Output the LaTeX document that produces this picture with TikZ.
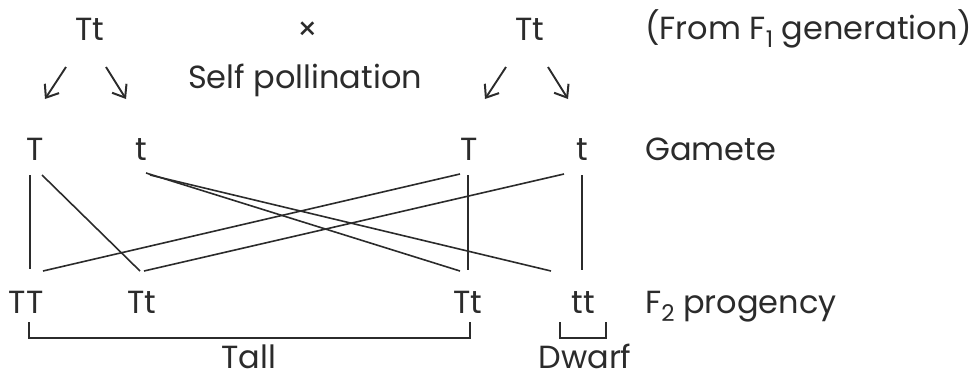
\documentclass[tikz,border=0pt]{standalone}
\usepackage{fontspec}
\setmainfont{Poppins}
\usetikzlibrary{arrows.meta}
\definecolor{ink}{HTML}{2B2B2B}
\newcommand{\lowsub}[1]{\raisebox{-8pt}{\fontsize{23}{26}\selectfont #1}}
\tikzset{
  lbl/.style={anchor=base, inner sep=0pt, text=ink, font=\fontsize{32}{38}\selectfont},
  lbll/.style={lbl, anchor=base west},
  conn/.style={draw=ink, line width=1.6pt},
  arr/.style={draw=ink, line width=1.9pt, -{Straight Barb[length=11pt,width=17pt,line width=2pt]}},
}
\begin{document}
\begin{tikzpicture}[x=1pt,y=-1pt]
\useasboundingbox (0,0) rectangle (975,381);
% parents
\node[lbl] (p1) at (90,40) {Tt};
\node[lbl] (cross) at (308,40) {×};
\node[lbl] (p2) at (530,40) {Tt};
\node[lbll] (f1lab) at (645,39) {(From F\lowsub{1} generation)};
\node[lbll] (self) at (188,88) {Self pollination};
% arrows
\coordinate (a1s) at (66,67); \coordinate (a1e) at (45,99);
\coordinate (a2s) at (106,67); \coordinate (a2e) at (126,99);
\coordinate (a3s) at (506,67); \coordinate (a3e) at (485,99);
\coordinate (a4s) at (548,67); \coordinate (a4e) at (568,99);
\draw[arr] (a1s) -- (a1e);
\draw[arr] (a2s) -- (a2e);
\draw[arr] (a3s) -- (a3e);
\draw[arr] (a4s) -- (a4e);
% gametes
\node[lbl] (g1) at (35,160) {T};
\node[lbl] (g2) at (141,160) {t};
\node[lbl] (g3) at (469,160) {T};
\node[lbl] (g4) at (582,160) {t};
\node[lbll] (glab) at (645,160) {Gamete};
% connector ends
\coordinate (g1a) at (30,175);
\coordinate (g1b) at (42,175);
\coordinate (g2a) at (146,173);
\coordinate (g2b) at (150,175);
\coordinate (g3a) at (460,174);
\coordinate (g3b) at (468,175);
\coordinate (g4a) at (564,174);
\coordinate (g4b) at (582,175);
\coordinate (o1a) at (30,269);
\coordinate (o1b) at (43,271);
\coordinate (o2a) at (140,271);
\coordinate (o2b) at (144,271);
\coordinate (o3a) at (460,271);
\coordinate (o3b) at (468,270);
\coordinate (o4a) at (551,271);
\coordinate (o4b) at (582,270);
\draw[conn] (g1a) -- (o1a);
\draw[conn] (g1b) -- (o2a);
\draw[conn] (g2a) -- (o3a);
\draw[conn] (g2b) -- (o4a);
\draw[conn] (g3a) -- (o1b);
\draw[conn] (g3b) -- (o3b);
\draw[conn] (g4a) -- (o2b);
\draw[conn] (g4b) -- (o4b);
% offspring
\node[lbl] (f1) at (26,313) {TT};
\node[lbl] (f2) at (142,313) {Tt};
\node[lbl] (f3) at (468,313) {Tt};
\node[lbl] (f4) at (583,313) {tt};
\node[lbll] (f2lab) at (645,313) {F\lowsub{2} progency};
% brackets
\coordinate (b1l) at (29,322); \coordinate (b1r) at (470,322);
\coordinate (b2l) at (560,322); \coordinate (b2r) at (606,322);
\draw[conn] (b1l) -- ++(0,16) -| (b1r);
\draw[conn] (b2l) -- ++(0,16) -| (b2r);
\node[lbl] (tall) at (249,368) {Tall};
\node[lbl] (dwarf) at (585,368) {Dwarf};
\end{tikzpicture}
\end{document}
